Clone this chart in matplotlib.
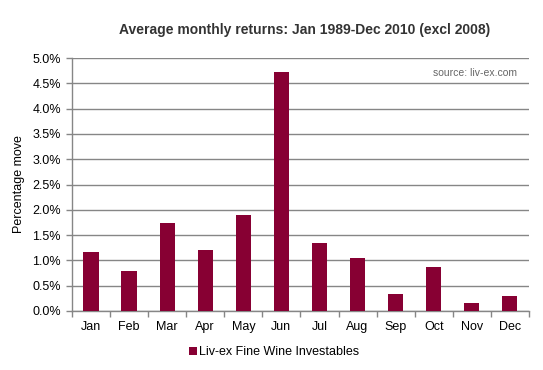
import matplotlib
matplotlib.use("Agg")
from matplotlib import pyplot as plt
import matplotlib.ticker as mticker
import numpy as np

plt.rcParams['font.family'] = ['Liberation Sans', 'DejaVu Sans']

months = ['Jan', 'Feb', 'Mar', 'Apr', 'May', 'Jun', 'Jul', 'Aug', 'Sep', 'Oct', 'Nov', 'Dec']
returns = [1.17, 0.79, 1.73, 1.21, 1.90, 4.72, 1.35, 1.05, 0.34, 0.87, 0.16, 0.30]
series_name = 'Liv-ex Fine Wine Investables'

bar_color = '#870033'
grid_color = '#868686'

fig = plt.figure(figsize=(5.43, 3.70), dpi=100)
ax = fig.add_axes([0.1326, 0.1595, 0.8414, 0.6835])

x = np.arange(len(months))
ax.bar(x, returns, width=0.4, color=bar_color, label=series_name, zorder=3)

ax.set_xlim(-0.5, len(months) - 0.5)
ax.set_ylim(0, 5.0)
ax.yaxis.set_major_locator(mticker.MultipleLocator(0.5))
ax.yaxis.set_major_formatter(mticker.FuncFormatter(lambda v, p: '%.1f%%' % v))
ax.grid(axis='y', color=grid_color, linewidth=1, zorder=0)

ax.set_xticks(x)
ax.set_xticklabels(months)
ax.set_xticks(np.arange(-0.5, len(months)), minor=True)
ax.tick_params(axis='x', which='major', length=0, pad=7)
ax.tick_params(axis='x', which='minor', length=4, color=grid_color, width=1)
ax.tick_params(axis='y', length=4, color=grid_color, width=1, pad=4)
ax.tick_params(labelsize=9, labelcolor='black')

for s in ['top', 'right']:
    ax.spines[s].set_visible(False)
for s in ['left', 'bottom']:
    ax.spines[s].set_color(grid_color)
    ax.spines[s].set_linewidth(1)

ax.set_ylabel('Percentage move', fontsize=9, labelpad=5)

fig.text(0.561, 0.918, 'Average monthly returns: Jan 1989-Dec 2010 (excl 2008)',
         ha='center', va='center', fontsize=10, fontweight='bold', color='#333333')
ax.text(0.975, 0.94, 'source: liv-ex.com', transform=ax.transAxes,
        ha='right', va='center', fontsize=7.5, color='#666666')

leg = fig.legend(loc='center', bbox_to_anchor=(0.505, 0.048), frameon=False,
                 fontsize=9, handlelength=0.6, handleheight=0.6, handletextpad=0.2)

fig.savefig('out.png', dpi=100)
